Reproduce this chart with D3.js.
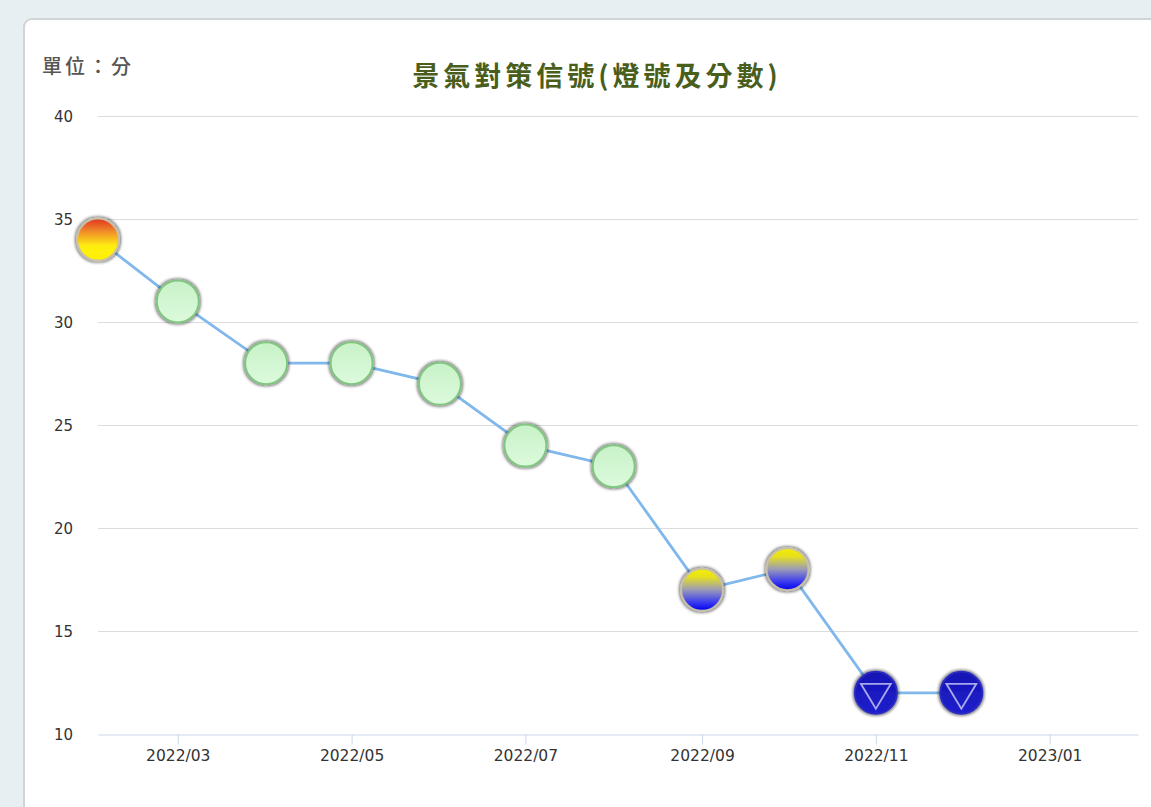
<!DOCTYPE html>
<html>
<head>
<meta charset="utf-8">
<script src="https://cdn.jsdelivr.net/npm/d3@7"></script>
<style>
  html, body { margin: 0; padding: 0; background: #e7eff2; }
  svg { display: block; font-family: "Noto Sans CJK TC", "Noto Sans", Arial, sans-serif; }
  .grid line { stroke: #dcdcdc; stroke-width: 1; }
  .tick text { fill: #333; font-family: "DejaVu Sans", sans-serif; }
</style>
</head>
<body>
<div id="chart"></div>
<script>
// monthly signal data
var months  = ["2022-02","2022-03","2022-04","2022-05","2022-06","2022-07","2022-08","2022-09","2022-10","2022-11","2022-12"];
var scores  = [34, 31, 28, 28, 27, 24, 23, 17, 18, 12, 12];
var signals = ["yr","g","g","g","g","g","g","yb","yb","b","b"];
var yTicks  = [10, 15, 20, 25, 30, 35, 40];
var xTicks  = ["2022-03","2022-05","2022-07","2022-09","2022-11","2023-01"];
var xDomain = ["2022-02","2023-02"];

var W = 1151, H = 807;
var margin = { left: 98, right: 13, top: 116, bottom: 73 };

var parse = d3.timeParse("%Y-%m");
var fmt = d3.timeFormat("%Y/%m");

var svg = d3.select("#chart").append("svg")
  .attr("width", W).attr("height", H);

var defs = svg.append("defs");

function grad(id, stops) {
  var g = defs.append("linearGradient").attr("id", id)
    .attr("x1", 0).attr("y1", 0).attr("x2", 0).attr("y2", 1);
  stops.forEach(function(s) {
    g.append("stop").attr("offset", s[0]).attr("stop-color", s[1]);
  });
}
grad("g-yr", [[0, "#e2321f"], [0.3, "#f08a2a"], [0.65, "#ffee10"], [1, "#fff200"]]);
grad("g-g",  [[0, "#c8f2c8"], [1, "#dcfadc"]]);
grad("g-yb", [[0, "#f5ee00"], [0.2, "#e6e020"], [0.5, "#9a9ab8"], [0.8, "#3a3af0"], [1, "#0000ee"]]);
grad("g-b",  [[0, "#1414b4"], [1, "#2020cc"]]);

var shadow = defs.append("filter").attr("id", "shade")
  .attr("x", "-30%").attr("y", "-30%").attr("width", "160%").attr("height", "160%");
shadow.append("feMorphology").attr("in", "SourceAlpha").attr("operator", "dilate").attr("radius", 1).attr("result", "d");
shadow.append("feGaussianBlur").attr("in", "d").attr("stdDeviation", 1.5).attr("result", "b");
shadow.append("feComponentTransfer").attr("in", "b").attr("result", "s")
  .append("feFuncA").attr("type", "linear").attr("slope", 0.55);
var mrg = shadow.append("feMerge");
mrg.append("feMergeNode").attr("in", "s");
mrg.append("feMergeNode").attr("in", "SourceGraphic");

// panel
svg.append("rect")
  .attr("x", 24).attr("y", 19).attr("width", W + 20).attr("height", H + 20)
  .attr("rx", 8).attr("ry", 8)
  .attr("fill", "#fff").attr("stroke", "#cfd4d6").attr("stroke-width", 2);

var x = d3.scaleTime()
  .domain(xDomain.map(parse))
  .range([margin.left, W - margin.right]);
var y = d3.scaleLinear()
  .domain([10, 40])
  .range([H - margin.bottom, margin.top]);

// grid
svg.append("g").attr("class", "grid")
  .selectAll("line")
  .data(yTicks.filter(function(d) { return d > 10; }))
  .enter().append("line")
  .attr("x1", x.range()[0]).attr("x2", x.range()[1])
  .attr("y1", function(d) { return y(d) + 0.5; })
  .attr("y2", function(d) { return y(d) + 0.5; });

// y axis
var yAxis = svg.append("g")
  .attr("transform", "translate(" + (margin.left - 25) + ",0)")
  .call(d3.axisLeft(y).tickValues(yTicks).tickSize(0).tickPadding(0));
yAxis.select(".domain").remove();
yAxis.selectAll("text").attr("dy", "0.35em").attr("font-size", 15);

// x axis
var xAxis = svg.append("g")
  .attr("transform", "translate(0," + (y(10) + 0.5) + ")")
  .call(d3.axisBottom(x).tickValues(xTicks.map(parse)).tickFormat(fmt)
    .tickSize(10).tickSizeOuter(0).tickPadding(5));
xAxis.select(".domain").attr("stroke", "#ccd6eb");
xAxis.selectAll(".tick line").attr("stroke", "#ccd6eb");
xAxis.selectAll("text").attr("font-size", 15.5);

// titles
svg.append("text")
  .attr("x", 597).attr("y", 86)
  .attr("text-anchor", "middle")
  .attr("fill", "#4a5e1c")
  .attr("font-size", 27).attr("font-weight", "bold")
  .attr("letter-spacing", 4)
  .text("景氣對策信號(燈號及分數)");

svg.append("text")
  .attr("x", 42).attr("y", 74)
  .attr("fill", "#555")
  .attr("font-size", 20).attr("font-weight", 500)
  .attr("letter-spacing", 3)
  .text("單位：分");

var data = months.map(function(m, i) {
  return { date: parse(m), score: scores[i], sig: signals[i] };
});

// line
svg.append("path")
  .datum(data)
  .attr("fill", "none")
  .attr("stroke", "#80b8ec")
  .attr("stroke-width", 2.8)
  .attr("d", d3.line()
    .x(function(d) { return x(d.date); })
    .y(function(d) { return y(d.score); }));

// markers
var R = 21;
var mk = svg.append("g").selectAll("g.marker")
  .data(data)
  .enter().append("g")
  .attr("class", "marker")
  .attr("transform", function(d) { return "translate(" + x(d.date) + "," + y(d.score) + ")"; });

mk.append("circle")
  .attr("r", R)
  .attr("filter", "url(#shade)")
  .attr("fill", function(d) { return "url(#g-" + d.sig + ")"; })
  .attr("stroke", function(d) {
    return d.sig == "g" ? "#80c680" : (d.sig == "b" ? "#2a2ac0" : "#c8c0a8");
  })
  .attr("stroke-width", 2);

mk.filter(function(d) { return d.sig == "b"; })
  .append("path")
  .attr("d", "M -15,-9 L 15,-9 L 0,16 Z")
  .attr("fill", "none")
  .attr("stroke", "#a8a8ee")
  .attr("stroke-width", 1.8);
</script>
</body>
</html>
